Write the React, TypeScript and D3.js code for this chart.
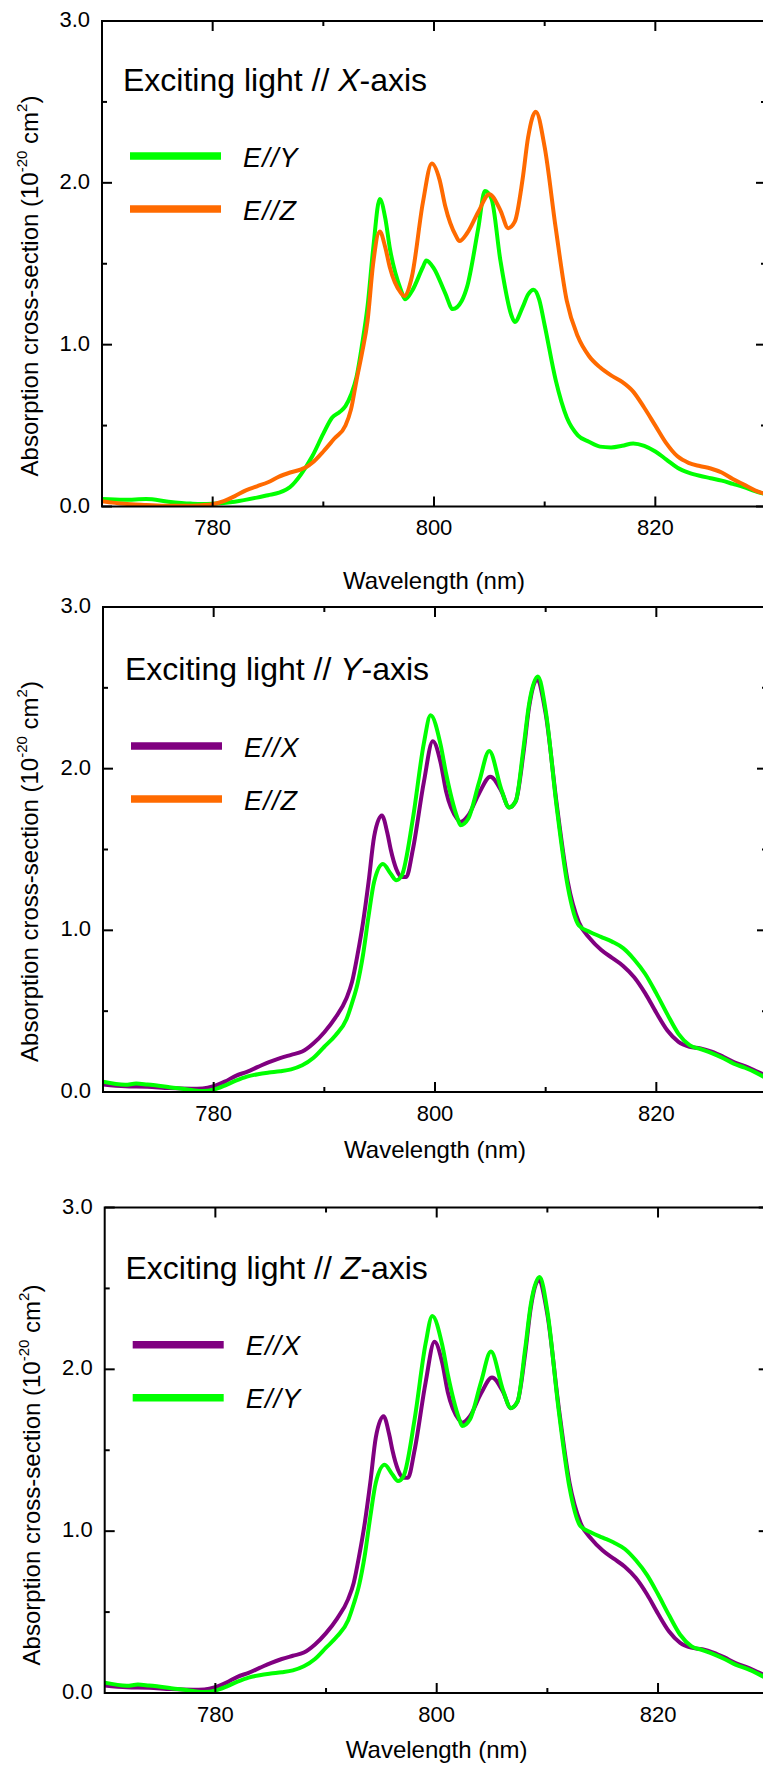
import React from 'react';
import * as d3 from 'd3';

// Axis ranges and ticks shared by the three panels
const WL_DOMAIN: [number, number] = [770, 830];
const SIGMA_DOMAIN: [number, number] = [0, 3];
const xMajorTicks = [780, 800, 820];
const xMinorTicks = [790, 810];
const yMajorTicks = [0, 1, 2, 3];
const yMinorTicks = [0.5, 1.5, 2.5];
const yTickLabels = ['0.0', '1.0', '2.0', '3.0'];

// Exciting light // X-axis : E//Y
const wlXY = [770, 772, 774, 776, 778, 779, 780, 782, 784, 785, 786, 787, 788, 789, 790, 790.8, 791.5, 792, 792.5, 793, 793.5, 794, 794.5, 795.1, 795.6, 796, 797, 797.4, 798, 799, 799.3, 800, 801, 801.7, 802.5, 803, 804, 804.6, 805.2, 806, 807, 807.3, 808, 808.5, 809, 809.5, 810, 811, 812, 813, 814, 815, 816, 817, 818, 819, 820, 821, 822, 823, 824, 825, 826, 827, 828, 829, 830];
const sigXY = [0.047, 0.042, 0.046, 0.03, 0.018, 0.015, 0.017, 0.03, 0.055, 0.07, 0.085, 0.12, 0.2, 0.31, 0.45, 0.55, 0.585, 0.62, 0.69, 0.8, 1.0, 1.24, 1.59, 1.9, 1.78, 1.6, 1.34, 1.28, 1.33, 1.48, 1.52, 1.47, 1.32, 1.22, 1.27, 1.36, 1.72, 1.95, 1.9, 1.52, 1.18, 1.14, 1.23, 1.31, 1.34, 1.28, 1.12, 0.78, 0.55, 0.44, 0.4, 0.37, 0.365, 0.375, 0.39, 0.375, 0.34, 0.29, 0.24, 0.21, 0.19, 0.175, 0.16, 0.14, 0.12, 0.095, 0.075];

// Exciting light // X-axis : E//Z
const wlXZ = [770, 772, 774, 776, 778, 779, 780, 781, 782, 783, 784, 785, 786, 787, 788, 788.5, 789, 790, 791, 792, 792.5, 793, 793.5, 794, 794.5, 795.1, 795.6, 796, 797, 797.3, 798, 799, 799.8, 800.5, 801, 802, 802.3, 803, 804, 805, 806, 806.7, 807.3, 808, 808.5, 809.2, 810, 811, 812, 813, 814, 815, 816, 817, 818, 819, 820, 821, 822, 823, 824, 825, 826, 827, 828, 829, 830];
const sigXZ = [0.033, 0.017, 0.01, 0.005, 0.005, 0.008, 0.014, 0.033, 0.064, 0.1, 0.125, 0.15, 0.185, 0.21, 0.23, 0.245, 0.27, 0.34, 0.42, 0.5, 0.6, 0.78, 0.95, 1.15, 1.5, 1.7, 1.6, 1.48, 1.32, 1.3, 1.42, 1.88, 2.12, 2.02, 1.86, 1.67, 1.64, 1.69, 1.82, 1.93, 1.83, 1.72, 1.76, 2.02, 2.28, 2.44, 2.22, 1.72, 1.27, 1.05, 0.93, 0.86, 0.81, 0.77, 0.71, 0.61, 0.5, 0.39, 0.31, 0.27, 0.25, 0.235, 0.21, 0.17, 0.135, 0.1, 0.076];

// E//X spectrum (Y- and Z-axis excitation)
const wlEX = [770, 772, 774, 776, 778, 779, 780, 781, 782, 783, 784, 785, 786, 787, 788, 789, 790, 791, 792, 792.5, 793, 793.5, 794, 794.5, 795.2, 795.7, 796, 796.5, 797, 797.4, 798, 799, 799.8, 800.5, 801, 802, 802.3, 803, 804, 805, 806, 806.7, 807.3, 808, 808.5, 809.2, 810, 811, 812, 813, 814, 815, 816, 817, 818, 819, 820, 821, 822, 823, 824, 825, 826, 827, 828, 829, 830];
const sigEX = [0.047, 0.036, 0.033, 0.024, 0.02, 0.022, 0.036, 0.064, 0.1, 0.125, 0.155, 0.185, 0.21, 0.23, 0.25, 0.3, 0.37, 0.46, 0.58, 0.68, 0.85, 1.05, 1.3, 1.58, 1.71, 1.6, 1.5, 1.38, 1.33, 1.33, 1.5, 1.92, 2.17, 2.04, 1.86, 1.69, 1.67, 1.71, 1.85, 1.95, 1.86, 1.76, 1.8, 2.1, 2.38, 2.55, 2.34, 1.78, 1.3, 1.05, 0.95, 0.88, 0.83, 0.78, 0.71, 0.61, 0.49, 0.38, 0.31, 0.28, 0.27, 0.25, 0.22, 0.185, 0.16, 0.13, 0.1];

// Green spectrum of the Y- and Z-axis excitation panels
const wlEG = [770, 772, 773, 774, 776, 778, 779, 780, 781, 782, 783, 784, 785, 786, 787, 788, 789, 790, 791, 792, 792.5, 793, 793.5, 794, 794.5, 795.3, 796, 796.5, 797, 798, 799, 799.6, 800.5, 801, 802, 802.3, 803, 804, 804.9, 806, 806.7, 807.3, 808, 808.5, 809.3, 810, 811, 812, 813, 814, 815, 816, 817, 818, 819, 820, 821, 822, 823, 824, 825, 826, 827, 828, 829, 830];
const sigEG = [0.064, 0.045, 0.052, 0.046, 0.03, 0.012, 0.006, 0.015, 0.04, 0.07, 0.095, 0.11, 0.12, 0.128, 0.14, 0.165, 0.21, 0.28, 0.35, 0.45, 0.55, 0.67, 0.85, 1.09, 1.3, 1.41, 1.35, 1.31, 1.34, 1.69, 2.16, 2.33, 2.15, 1.97, 1.7, 1.65, 1.69, 1.92, 2.11, 1.87, 1.76, 1.8, 2.13, 2.4, 2.57, 2.36, 1.76, 1.27, 1.03, 0.99, 0.96, 0.93, 0.89, 0.82, 0.73, 0.61, 0.48, 0.36, 0.29, 0.265, 0.24, 0.21, 0.175, 0.15, 0.12, 0.083];

const GREEN = '#00ff00';
const ORANGE = '#ff6a00';
const PURPLE = '#800080';
const FONT = '"Liberation Sans", Arial, Helvetica, sans-serif';

type Series = { wl: number[]; sig: number[]; color: string };
type LegendItem = { axis: string; color: string };
type Frame = { left: number; right: number; top: number; bottom: number; titleX: number; titleY: number; legendY: number; xTitleY: number; yLabelX: number; yLabelCy: number };

function Panel({ id, frame, axis, legend, series }: { id: string; frame: Frame; axis: string; legend: LegendItem[]; series: Series[] }) {
  const x = d3.scaleLinear().domain(WL_DOMAIN).range([frame.left, frame.right]);
  const y = d3.scaleLinear().domain(SIGMA_DOMAIN).range([frame.bottom, frame.top]);
  const line = d3
    .line<[number, number]>()
    .x((d) => x(d[0]))
    .y((d) => y(d[1]))
    .curve(d3.curveMonotoneX);

  const major = 10;
  const minor = 5;
  const tickStroke = { stroke: '#000', strokeWidth: 2 };
  const cx = (frame.left + frame.right) / 2;

  return (
    <g>
      <defs>
        <clipPath id={`clip-${id}`}>
          <rect x={frame.left} y={frame.top} width={frame.right - frame.left} height={frame.bottom - frame.top} />
        </clipPath>
      </defs>

      <g clipPath={`url(#clip-${id})`}>
        {series.map((s, i) => (
          <path
            key={i}
            d={line(s.wl.map((w, k) => [w, s.sig[k]] as [number, number])) || ''}
            fill="none"
            stroke={s.color}
            strokeWidth={4}
            strokeLinejoin="round"
          />
        ))}
      </g>

      {/* frame */}
      <rect x={frame.left} y={frame.top} width={frame.right - frame.left} height={frame.bottom - frame.top} fill="none" stroke="#000" strokeWidth={2} />

      {/* x ticks, bottom and top, pointing inward */}
      {xMajorTicks.concat(xMinorTicks).map((t) => {
        const len = xMajorTicks.includes(t) ? major : minor;
        return (
          <g key={`x${t}`}>
            <line x1={x(t)} x2={x(t)} y1={frame.bottom} y2={frame.bottom - len} {...tickStroke} />
            <line x1={x(t)} x2={x(t)} y1={frame.top} y2={frame.top + len} {...tickStroke} />
          </g>
        );
      })}
      {/* y ticks, left and right, pointing inward */}
      {yMajorTicks.concat(yMinorTicks).map((t) => {
        const len = yMajorTicks.includes(t) ? major : minor;
        return (
          <g key={`y${t}`}>
            <line x1={frame.left} x2={frame.left + len} y1={y(t)} y2={y(t)} {...tickStroke} />
            <line x1={frame.right} x2={frame.right - len} y1={y(t)} y2={y(t)} {...tickStroke} />
          </g>
        );
      })}

      {/* tick labels */}
      {xMajorTicks.map((t) => (
        <text key={`xl${t}`} x={x(t)} y={frame.bottom + 28.5} textAnchor="middle" fontSize={22} fontFamily={FONT}>
          {t}
        </text>
      ))}
      {yMajorTicks.map((t, i) => (
        <text key={`yl${t}`} x={frame.left - 12} y={y(t) + 6} textAnchor="end" fontSize={22} fontFamily={FONT}>
          {yTickLabels[i]}
        </text>
      ))}

      {/* axis titles */}
      <text x={cx} y={frame.xTitleY} textAnchor="middle" fontSize={24} fontFamily={FONT}>
        Wavelength (nm)
      </text>
      <text
        transform={`translate(${frame.yLabelX},${frame.yLabelCy}) rotate(-90)`}
        textAnchor="middle"
        fontSize={24}
        fontFamily={FONT}
      >
        Absorption cross-section (10
        <tspan dy={-11} fontSize={15}>-20</tspan>
        <tspan dy={11}> cm</tspan>
        <tspan dy={-11} fontSize={15}>2</tspan>
        <tspan dy={11}>)</tspan>
      </text>

      {/* panel title */}
      <text x={frame.titleX} y={frame.titleY} fontSize={32} fontFamily={FONT}>
        Exciting light // <tspan fontStyle="italic">{axis}</tspan>-axis
      </text>

      {/* legend */}
      {legend.map((item, i) => {
        const ly = frame.legendY + i * 53;
        return (
          <g key={item.axis}>
            <line x1={frame.left + 28} x2={frame.left + 119} y1={ly} y2={ly} stroke={item.color} strokeWidth={7.5} />
            <text x={frame.left + 141} y={ly + 10.5} fontSize={27} fontStyle="italic" fontFamily={FONT} letterSpacing={1.2}>
              {`E//${item.axis}`}
            </text>
          </g>
        );
      })}
    </g>
  );
}

const frames: Frame[] = [
  { left: 102, right: 766, top: 21, bottom: 506.5, titleX: 123, titleY: 90.5, legendY: 156, xTitleY: 588.5, yLabelX: 38, yLabelCy: 286 },
  { left: 103, right: 767, top: 607, bottom: 1092, titleX: 125, titleY: 680, legendY: 746, xTitleY: 1158, yLabelX: 38, yLabelCy: 871.5 },
  { left: 104.7, right: 768.7, top: 1207.5, bottom: 1693, titleX: 125.5, titleY: 1279, legendY: 1344.7, xTitleY: 1758, yLabelX: 40, yLabelCy: 1475 },
];

export default function App() {
  return (
    <svg
      width={763}
      height={1767}
      viewBox="0 0 763 1767"
      style={{ position: 'absolute', left: 0, top: 0, display: 'block', background: '#fff' }}
    >
      <rect x={0} y={0} width={763} height={1767} fill="#fff" />
      <Panel
        id="px"
        frame={frames[0]}
        axis="X"
        legend={[
          { axis: 'Y', color: GREEN },
          { axis: 'Z', color: ORANGE },
        ]}
        series={[
          { wl: wlXY, sig: sigXY, color: GREEN },
          { wl: wlXZ, sig: sigXZ, color: ORANGE },
        ]}
      />
      <Panel
        id="py"
        frame={frames[1]}
        axis="Y"
        legend={[
          { axis: 'X', color: PURPLE },
          { axis: 'Z', color: ORANGE },
        ]}
        series={[
          { wl: wlEX, sig: sigEX, color: PURPLE },
          { wl: wlEG, sig: sigEG, color: GREEN },
        ]}
      />
      <Panel
        id="pz"
        frame={frames[2]}
        axis="Z"
        legend={[
          { axis: 'X', color: PURPLE },
          { axis: 'Y', color: GREEN },
        ]}
        series={[
          { wl: wlEX, sig: sigEX, color: PURPLE },
          { wl: wlEG, sig: sigEG, color: GREEN },
        ]}
      />
    </svg>
  );
}
